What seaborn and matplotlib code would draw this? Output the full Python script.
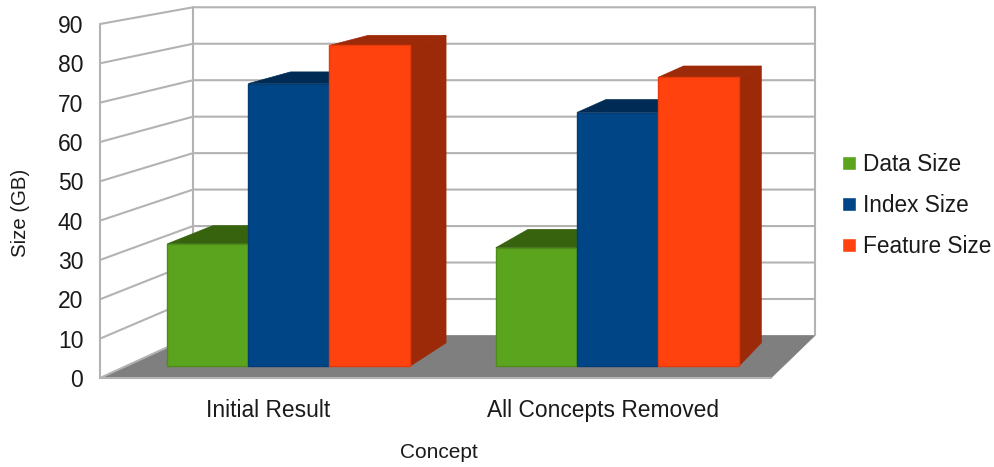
import numpy as np
import pandas as pd
import matplotlib
matplotlib.use("Agg")
import matplotlib.pyplot as plt
from matplotlib.patches import Polygon
from matplotlib.transforms import Affine2D
import seaborn as sns

categories = ["Initial Result", "All Concepts Removed"]
data_size = [31.7, 30.7]
index_size = [73.3, 65.8]
feature_size = [83.2, 74.9]
series_names = ["Data Size", "Index Size", "Feature Size"]
y_ticks = list(range(0, 100, 10))
front_colors = ["#5ba41e", "#004586", "#ff420e"]
shade_colors = ["#37630f", "#002b54", "#9c2a08"]
edge_colors = ["#4d8c19", "#003d76", "#e63a0c"]
GRID = "#b3b3b3"
FLOOR = "#7f7f7f"

W, H = 995, 467
sns.set_theme(style="white")
plt.rcParams["font.family"] = ["Liberation Sans", "DejaVu Sans"]
plt.rcParams["text.color"] = "#1a1a1a"

fig = plt.figure(figsize=(W / 100, H / 100), dpi=100)
# The axes box is the front plane of the 3D scene; depth is a shrink towards a vanishing point.
left, right, bottom, top = 100, 771, 378, 24
ax = fig.add_axes([left / W, 1 - bottom / H, (right - left) / W, (bottom - top) / H])
WALL_VP = (1374.0, H + 205.0)
BAR_VP = (1290.0, H + 205.0)
BAR_FRONT, BAR_BACK, WALL = 0.0206, 0.0603, 0.073


def depth(s, vp=WALL_VP):
    return Affine2D().translate(-vp[0], -vp[1]).scale(1 - s).translate(vp[0], vp[1])


frame = pd.DataFrame({
    "Concept": categories * 3,
    "Series": np.repeat(series_names, 2),
    "Size": data_size + index_size + feature_size,
})
sns.barplot(frame, x="Concept", y="Size", hue="Series", hue_order=series_names,
            palette=front_colors, width=0.74, gap=0, saturation=1, ax=ax, legend=True)
ax.set_xlim(-0.5, 1.5)
ax.set_ylim(0, 90)
ax.set_yticks(y_ticks)
fig.canvas.draw()


def proj(x, y, s, vp=WALL_VP):
    return depth(s, vp).transform(ax.transData.transform((x, y)))


def face(points, color, z):
    fig.add_artist(Polygon(points, closed=True, facecolor=color, edgecolor=color, lw=0.5,
                           transform=None, zorder=z))


# Walls, floor and grid sit behind the axes content, so the axes background is dropped.
ax.patch.set_alpha(0)
ax.set_zorder(5)
for spine in ax.spines.values():
    spine.set_visible(False)
ax.tick_params(axis="both", length=0, colors="#1a1a1a")
ax.tick_params(axis="y", pad=12, labelsize=16.5)
ax.tick_params(axis="x", pad=15, labelsize=16.4)

xa, xb = -0.5, 1.5
fl = [proj(xa, 0, 0), proj(xb, 0, 0), proj(xb, 0, WALL), proj(xa, 0, WALL)]
face(fl, FLOOR, 1)
for v in y_ticks[1:]:
    a, b, c = proj(xa, v, 0), proj(xa, v, WALL), proj(xb, v, WALL)
    fig.add_artist(plt.Line2D([a[0], b[0], c[0]], [a[1], b[1], c[1]], color=GRID, lw=1.5,
                              transform=None, zorder=2))
ends = [(proj(xa, 0, 0), proj(xa, 90, 0)), (proj(xa, 0, WALL), proj(xa, 90, WALL)),
        (proj(xb, 0, WALL), proj(xb, 90, WALL)), (proj(xa, 0, 0), proj(xb, 0, 0)),
        (proj(xa, 0, 0), proj(xa, 0, WALL))]
for p, q in ends:
    fig.add_artist(plt.Line2D([p[0], q[0]], [p[1], q[1]], color=GRID, lw=1.5,
                              transform=None, zorder=2))

# Bars: push each seaborn rectangle onto its depth plane and add shaded top and side faces.
bars = sorted([b for b in ax.patches if b.get_height() > 0], key=lambda b: b.get_x())
for i, bar in enumerate(bars):
    k = front_colors.index(matplotlib.colors.to_hex(bar.get_facecolor()))
    x0, x1, h = bar.get_x(), bar.get_x() + bar.get_width(), bar.get_height()
    z = 10 + 3 * i
    top_face = [proj(x0, h, BAR_FRONT, BAR_VP), proj(x1, h, BAR_FRONT, BAR_VP),
                proj(x1, h, BAR_BACK, BAR_VP), proj(x0, h, BAR_BACK, BAR_VP)]
    side_face = [proj(x1, 0, BAR_FRONT, BAR_VP), proj(x1, 0, BAR_BACK, BAR_VP),
                 proj(x1, h, BAR_BACK, BAR_VP), proj(x1, h, BAR_FRONT, BAR_VP)]
    face(top_face, shade_colors[k], z)
    face(side_face, shade_colors[k], z + 1)
    bar.set_edgecolor(edge_colors[k])
    bar.set_linewidth(1.0)
    bar.set_clip_on(False)
    bar.remove()
    bar.set_zorder(z + 2)
    bar.set_figure(fig)
    fig.add_artist(bar)
    bar.set_transform(ax.transData + depth(BAR_FRONT, BAR_VP))

ax.set_xlabel("")
ax.set_ylabel("")
fig.text(439 / W, 1 - 452 / H, "Concept", fontsize=15, ha="center", va="center")
fig.text(21 / W, 1 - 213 / H, "Size (GB)", fontsize=14.7, rotation=90, ha="center", va="center")

sns.move_legend(ax, "center left", bbox_to_anchor=(842 / W, 1 - 205.5 / H), bbox_transform=fig.transFigure,
                frameon=False, title=None, fontsize=16.3, handlelength=0.62, handleheight=0.62,
                handletextpad=0.31, labelspacing=0.8, borderpad=0, borderaxespad=0)

fig.savefig("out.png", dpi=100)
